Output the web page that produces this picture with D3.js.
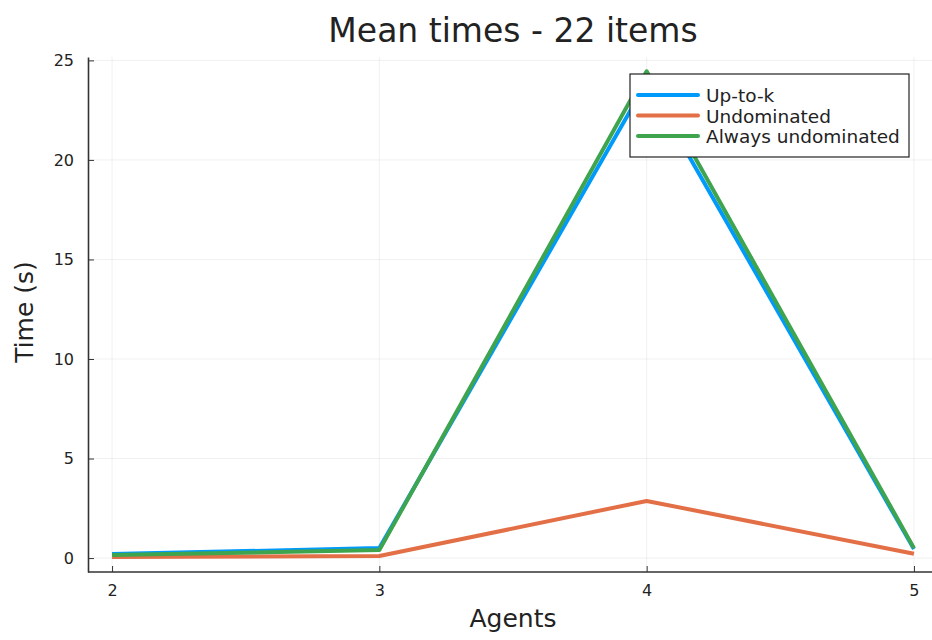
<!DOCTYPE html>
<html>
<head>
<meta charset="utf-8">
<script src="https://cdn.jsdelivr.net/npm/d3@7"></script>
<style>
  body { margin: 0; background: #fff; }
  text { font-family: "DejaVu Sans", sans-serif; fill: #222; }
</style>
</head>
<body>
<script>
// data
const agents = [2, 3, 4, 5];
const upToK = [0.2, 0.5, 23.9, 0.45];
const undominated = [0.05, 0.1, 2.87, 0.22];
const alwaysUndominated = [0.15, 0.4, 24.45, 0.5];
const seriesNames = ["Up-to-k", "Undominated", "Always undominated"];
const seriesColors = ["#009afa", "#e36f47", "#3ea44e"];
const yTicks = [0, 5, 10, 15, 20, 25];

const width = 932, height = 640;
const margin = {left: 88, right: -6, top: 57, bottom: 68};

const svg = d3.select("body").append("svg").attr("width", width).attr("height", height);

const xScale = d3.scaleLinear().domain([1.91, 5.09]).range([margin.left, width - margin.right]);
const yScale = d3.scaleLinear().domain([-0.7, 25.17]).range([height - margin.bottom, margin.top]);

const groupChart = svg.append("g");

// grid
groupChart.append("g").selectAll("line").data(agents).join("line")
  .attr("x1", d => xScale(d)).attr("x2", d => xScale(d))
  .attr("y1", margin.top).attr("y2", height - margin.bottom)
  .attr("stroke", "#000").attr("stroke-opacity", 0.1).attr("stroke-width", 0.6);
groupChart.append("g").selectAll("line").data(yTicks).join("line")
  .attr("x1", margin.left).attr("x2", width)
  .attr("y1", d => yScale(d)).attr("y2", d => yScale(d))
  .attr("stroke", "#000").attr("stroke-opacity", 0.1).attr("stroke-width", 0.6);

// axes
const xAxis = d3.axisBottom(xScale).tickValues(agents).tickFormat(d3.format("d"))
  .tickSizeInner(-6).tickSizeOuter(0).tickPadding(13);
const gx = groupChart.append("g").attr("transform", `translate(0, ${height - margin.bottom})`).call(xAxis);
const yAxis = d3.axisLeft(yScale).tickValues(yTicks).tickFormat(d3.format("d"))
  .tickSizeInner(-6).tickSizeOuter(0).tickPadding(14);
const gy = groupChart.append("g").attr("transform", `translate(${margin.left}, 0)`).call(yAxis);
[gx, gy].forEach(g => {
  g.select(".domain").attr("stroke", "#333").attr("stroke-width", 1.6);
  g.selectAll(".tick line").attr("stroke", "#333").attr("stroke-width", 1);
  g.selectAll(".tick text").attr("font-size", 16).attr("font-family", "DejaVu Sans").attr("fill", "#222");
});
gx.select(".domain").attr("d", `M${margin.left},0H${width}`);

// lines
const allSeries = [upToK, undominated, alwaysUndominated];
const lineGenerator = d3.line().x((d, i) => xScale(agents[i])).y(d => yScale(d));
allSeries.forEach((s, k) => {
  groupChart.append("path")
    .attr("fill", "none")
    .attr("stroke", seriesColors[k])
    .attr("stroke-width", 4)
    .attr("stroke-linejoin", "round")
    .attr("d", lineGenerator(s));
});

// titles
svg.append("text").attr("x", 513).attr("y", 42).attr("text-anchor", "middle")
  .attr("font-size", 33).text("Mean times - 22 items");
svg.append("text").attr("x", 513).attr("y", 627).attr("text-anchor", "middle")
  .attr("font-size", 25).text("Agents");
svg.append("text").attr("transform", `translate(33, 312) rotate(-90)`)
  .attr("text-anchor", "middle").attr("font-size", 25).text("Time (s)");

// legend
const legend = svg.append("g").attr("transform", "translate(630, 74)");
legend.append("rect").attr("width", 279).attr("height", 83)
  .attr("fill", "#fff").attr("stroke", "#222").attr("stroke-width", 1.2);
seriesNames.forEach((name, k) => {
  const y = 21 + k * 20.5;
  legend.append("line").attr("x1", 8).attr("x2", 68).attr("y1", y).attr("y2", y)
    .attr("stroke", seriesColors[k]).attr("stroke-width", 4).attr("stroke-linecap", "round");
  legend.append("text").attr("x", 76).attr("y", y + 7).attr("font-size", 18.5).text(name);
});
</script>
</body>
</html>
